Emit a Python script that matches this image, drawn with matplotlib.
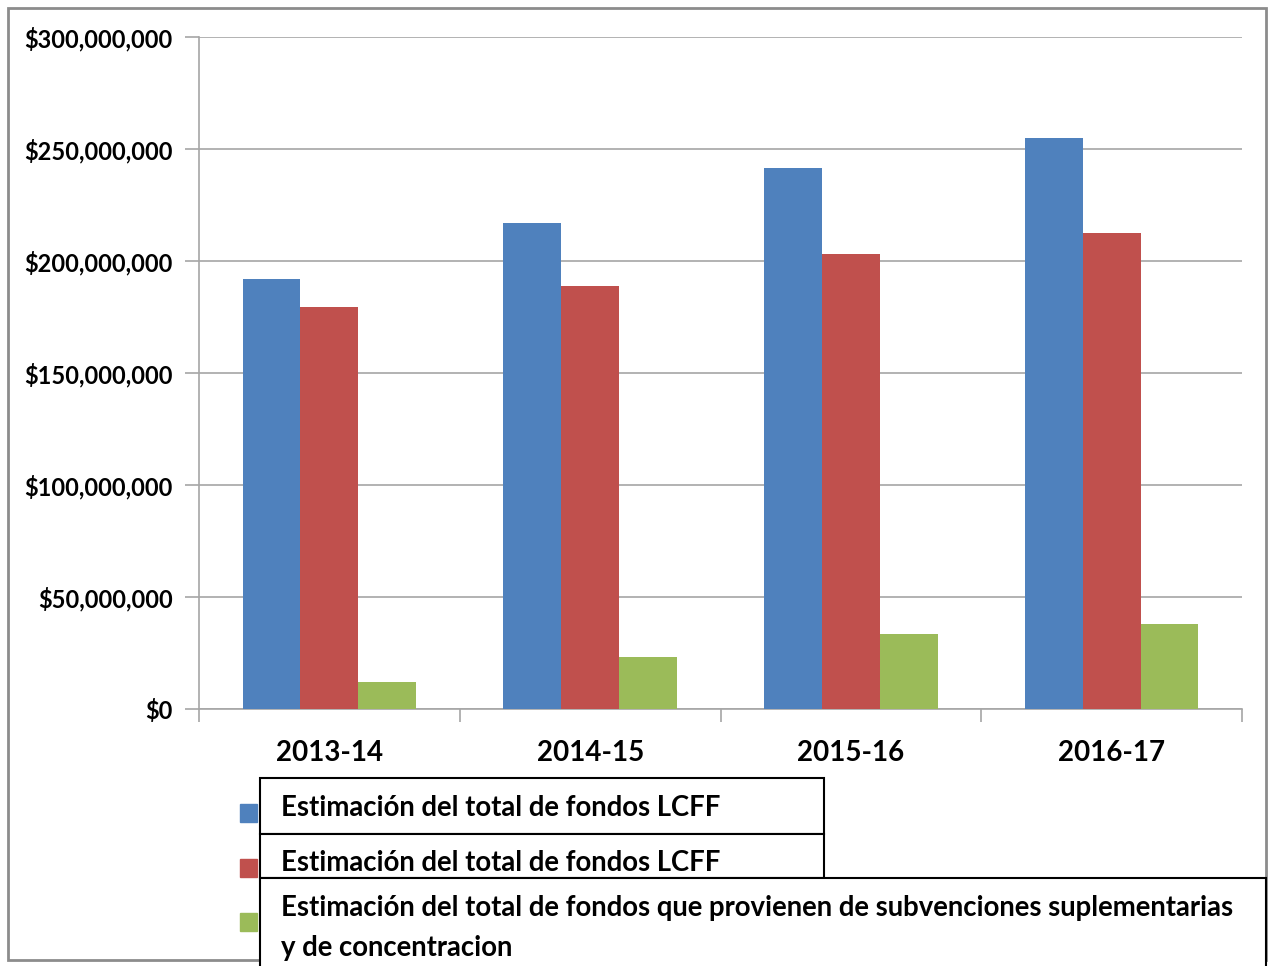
import matplotlib.pyplot as plt
import matplotlib.patches as patches
from matplotlib.ticker import FuncFormatter
import numpy as np

plt.rcParams['font.family'] = ['Lato', 'DejaVu Sans']

# Data
years = ['2013-14', '2014-15', '2015-16', '2016-17']
total_lcff = [192e6, 217e6, 241.5e6, 255e6]
total_lcff_2 = [179.5e6, 189e6, 203e6, 212.5e6]
supl_conc = [12e6, 23e6, 33.5e6, 38e6]
labels = ['Estimación del total de fondos LCFF',
          'Estimación del total de fondos LCFF',
          'Estimación del total de fondos que provienen de subvenciones suplementarias',
          'y de concentracion']
colors = ['#4F81BD', '#C0504D', '#9BBB59']

W, H = 1268, 966
fig = plt.figure(figsize=(W / 100, H / 100), dpi=100)

# outer chart border
fig.patches.append(patches.Rectangle((8 / W, 1 - 960 / H), (1266 - 8) / W, (960 - 8) / H,
                                     transform=fig.transFigure, fill=False,
                                     edgecolor='#8C8C8C', linewidth=2))

ax = fig.add_axes([199 / W, 1 - 709 / H, (1242 - 199) / W, (709 - 37) / H])

x = np.arange(len(years))
bw = 0.222
series = [total_lcff, total_lcff_2, supl_conc]
for i, vals in enumerate(series):
    ax.bar(x + (i - 1) * bw, vals, width=bw, color=colors[i], zorder=3)

ax.set_xlim(-0.5, len(years) - 0.5)
ax.set_ylim(0, 300e6)
ax.set_yticks(np.arange(0, 300e6 + 1, 50e6))
ax.yaxis.set_major_formatter(FuncFormatter(lambda v, p: '${:,.0f}'.format(v)))
ax.grid(axis='y', color='#A6A6A6', linewidth=1.2, zorder=0)

ax.set_xticks(np.arange(-0.5, len(years)), labels=[])
ax.set_xticks(x, labels=years, minor=True)
ax.tick_params(axis='x', which='major', length=9, width=1.2, color='#A6A6A6')
ax.tick_params(axis='x', which='minor', length=0, pad=22, labelsize=20)
ax.tick_params(axis='y', length=10, width=1.2, color='#A6A6A6', pad=9, labelsize=17)
for lab in ax.get_xticklabels(minor=True) + ax.get_yticklabels():
    lab.set_fontweight('bold')

for s in ['top', 'right']:
    ax.spines[s].set_visible(False)
for s in ['left', 'bottom']:
    ax.spines[s].set_color('#A6A6A6')
    ax.spines[s].set_linewidth(1.2)

# legend: boxed labels as in the original
boxes = [(260, 778, 824, 834), (260, 834, 824, 878), (260, 878, 1266, 975)]
swatch_y = [813, 868, 922]
for i in range(3):
    x0, y0, x1, y1 = boxes[i]
    fig.patches.append(patches.Rectangle((x0 / W, 1 - y1 / H), (x1 - x0) / W, (y1 - y0) / H,
                                         transform=fig.transFigure, facecolor='white',
                                         edgecolor='black', linewidth=1.5))
    fig.patches.append(patches.Rectangle((240 / W, 1 - (swatch_y[i] + 9) / H), 17 / W, 18 / H,
                                         transform=fig.transFigure, color=colors[i]))

text_y = [808, 863, 908, 948]
for lab, ty in zip(labels, text_y):
    fig.text(281 / W, 1 - ty / H, lab, fontsize=19.8, fontweight='bold',
             va='center', ha='left')

fig.savefig('out.png', dpi=100)
